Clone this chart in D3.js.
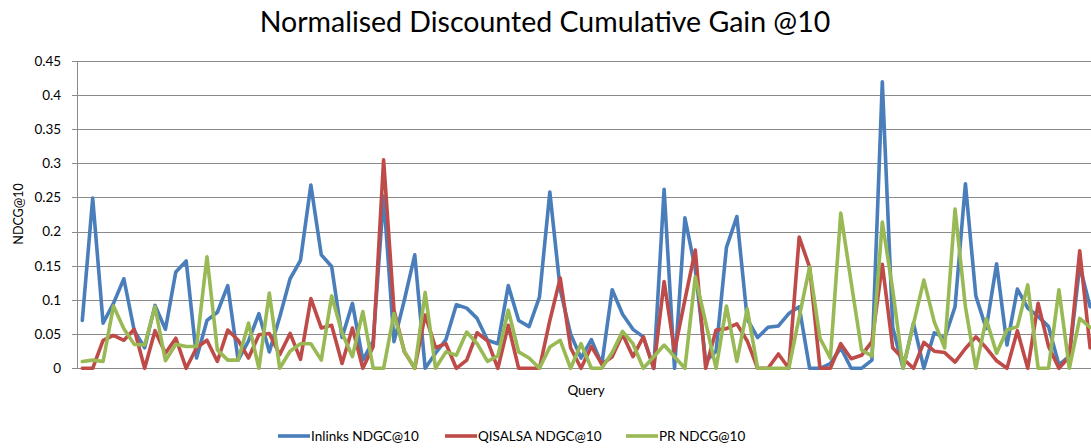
<!DOCTYPE html>
<html>
<head>
<meta charset="utf-8">
<script src="https://cdn.jsdelivr.net/npm/d3@7"></script>
<style>
html,body{margin:0;padding:0;background:#fff;overflow:hidden;}
svg{display:block;font-family:Lato, "Open Sans", sans-serif;}
</style>
</head>
<body>
<svg id="chart" width="1091" height="448"></svg>
<script>
const title = "Normalised Discounted Cumulative Gain @10";
const yAxisTitle = "NDCG@10";
const xAxisTitle = "Query";
const seriesNames = ["Inlinks NDGC@10", "QISALSA NDGC@10", "PR NDCG@10"];
const seriesColors = ["#4A7EBB", "#BE4B48", "#98B954"];
const yTickValues = [0, 0.05, 0.1, 0.15, 0.2, 0.25, 0.3, 0.35, 0.4, 0.45];
const yTickLabels = ["0", "0.05", "0.1", "0.15", "0.2", "0.25", "0.3", "0.35", "0.4", "0.45"];

const inlinks = [0.070,0.249,0.066,0.095,0.131,0.055,0.030,0.092,0.057,0.141,
0.157,0.015,0.070,0.082,0.121,0.012,0.040,0.080,0.024,0.075,
0.131,0.158,0.268,0.166,0.149,0.045,0.095,0.012,0.040,0.252,
0.039,0.100,0.166,0.000,0.022,0.042,0.093,0.088,0.073,0.041,
0.036,0.121,0.070,0.061,0.104,0.258,0.115,0.050,0.015,0.042,
0.006,0.115,0.079,0.057,0.046,0.000,0.262,0.000,0.220,0.145,
0.010,0.025,0.177,0.222,0.072,0.045,0.060,0.062,0.080,0.090,
0.000,0.000,0.007,0.030,0.000,0.000,0.012,0.419,0.060,0.000,
0.066,0.000,0.052,0.044,0.090,0.270,0.106,0.058,0.153,0.034,
0.116,0.088,0.076,0.061,0.005,0.018,0.150,0.090];

const qisalsa = [0,0,0.041,0.048,0.041,0.057,0,0.055,0.022,0.044,
0,0.030,0.041,0.010,0.056,0.041,0.015,0.049,0.051,0.020,
0.051,0.013,0.102,0.059,0.063,0.007,0.059,0,0.032,0.305,
0.085,0.024,0,0.078,0.030,0.036,0,0.012,0.052,0.040,
0,0.063,0,0,0,0.070,0.132,0.030,0,0.032,
0.006,0.017,0.050,0.017,0.046,0,0.127,0.025,0.100,0.173,
0,0.056,0.058,0.065,0.040,0,0,0.021,0,0.192,
0.148,0,0,0.036,0.014,0.019,0.039,0.152,0.030,0.014,
0,0.038,0.025,0.023,0.009,0.029,0.046,0.030,0.011,0,
0.055,0,0.095,0.032,0,0.017,0.172,0.030];

const pr = [0.010,0.012,0.010,0.091,0.058,0.035,0.034,0.090,0.011,0.035,
0.032,0.032,0.163,0.027,0.012,0.012,0.066,0,0.110,0,
0.025,0.036,0.036,0.012,0.106,0.052,0.017,0.083,0,0,
0.080,0.025,0,0.111,0,0.024,0.019,0.053,0.036,0.010,
0.018,0.085,0.024,0.015,0,0.031,0.041,0,0.036,0,
0,0.023,0.054,0.036,0,0.017,0.034,0.017,0,0.134,
0.067,0,0.091,0.010,0.087,0,0,0,0,0.075,
0.148,0.044,0.015,0.227,0.126,0.027,0.018,0.214,0.115,0,
0.065,0.129,0.068,0.030,0.233,0.090,0,0.072,0.022,0.056,
0.061,0.122,0,0,0.115,0,0.073,0.060];

const queries = d3.range(1, inlinks.length + 1);
const seriesValues = [inlinks, qisalsa, pr];

const svg = d3.select("#chart");
const plot = {left: 77.1, right: 1095.3, top: 60.7, bottom: 368.3};

const x = d3.scalePoint().domain(queries).range([plot.left, plot.right]).padding(0.5);
const y = d3.scaleLinear().domain([0, 0.45]).range([plot.bottom, plot.top]);

// gridlines
const grid = svg.append("g").attr("transform", `translate(${plot.left},0)`)
  .call(d3.axisLeft(y).tickValues(yTickValues).tickSize(-(plot.right - plot.left)).tickFormat(""));
grid.select(".domain").remove();
grid.selectAll("line").attr("stroke", "#8a8a8a").attr("stroke-width", 1).attr("shape-rendering", "crispEdges");

// y axis
const yAxis = svg.append("g").attr("transform", `translate(${plot.left},0)`)
  .call(d3.axisLeft(y).tickValues(yTickValues).tickSize(5).tickPadding(11)
    .tickFormat((d, i) => yTickLabels[i]));
yAxis.select(".domain").attr("stroke", "#8a8a8a").attr("shape-rendering", "crispEdges");
yAxis.selectAll("line").attr("stroke", "#8a8a8a").attr("shape-rendering", "crispEdges");
yAxis.selectAll("text").attr("font-size", 13.5).attr("fill", "#000").attr("font-family", "Lato, sans-serif");

// lines
const line = d3.line().x((d, i) => x(queries[i])).y(d => y(d)).curve(d3.curveLinear);
seriesValues.forEach((vals, k) => {
  svg.append("path").datum(vals)
    .attr("d", line)
    .attr("fill", "none")
    .attr("stroke", seriesColors[k])
    .attr("stroke-width", 3.6)
    .attr("stroke-linejoin", "round")
    .attr("stroke-linecap", "round");
});

// title
svg.append("text").attr("x", 545).attr("y", 32).attr("text-anchor", "middle")
  .attr("font-size", 28.5).attr("fill", "#000").text(title);

// axis titles
svg.append("text").attr("transform", "translate(22.5,214) rotate(-90)")
  .attr("text-anchor", "middle").attr("font-size", 12.5).attr("fill", "#000").text(yAxisTitle);
svg.append("text").attr("x", 586).attr("y", 395).attr("text-anchor", "middle")
  .attr("font-size", 13.5).attr("fill", "#000").text(xAxisTitle);

// legend
const legendX = [278, 445, 626];
const lg = svg.append("g");
seriesNames.forEach((name, k) => {
  const g = lg.append("g").attr("transform", `translate(${legendX[k]},436)`);
  g.append("line").attr("x1", 0).attr("x2", 32).attr("y1", 0).attr("y2", 0)
    .attr("stroke", seriesColors[k]).attr("stroke-width", 3.6);
  g.append("text").attr("x", 33).attr("y", 0).attr("dy", "0.35em")
    .attr("font-size", 13.5).attr("fill", "#000").text(name);
});
</script>
</body>
</html>
